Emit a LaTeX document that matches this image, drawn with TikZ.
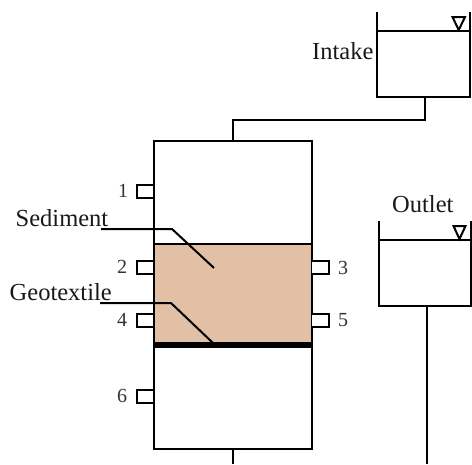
\documentclass[tikz,border=0pt]{standalone}
\usepackage{fontspec}
\setmainfont{Liberation Serif}
\tikzset{
  wall/.style={draw=black,line width=2pt},
  thin wall/.style={draw=black,line width=2pt},
  port/.style={draw=black,line width=2pt,fill=white},
  bigtext/.style={font=\fontsize{24.5}{24.5}\selectfont,inner sep=0pt,text=black!90},
  numtext/.style={font=\fontsize{20}{20}\selectfont,inner sep=0pt,text=black!80},
  level/.style={draw=black,line width=2pt,fill=white,line join=miter},
  leader/.style={draw=black,line width=2pt}
}
\begin{document}
\begin{tikzpicture}[x=1pt,y=-1pt]
\useasboundingbox (0,0) rectangle (472,464);
% soil and column
\fill[fill={rgb,255:red,225;green,192;blue,165}] (153.5,244) rectangle (311.5,344);
\draw[wall] (153.5,141) rectangle (311.5,449);
\draw[thin wall] (153.5,244) -- (311.5,244);
\fill[black] (153.5,342) rectangle (311.5,347.5);
% ports
\draw[port] (153,184.5) -- (136.5,184.5) -- (136.5,197.5) -- (153,197.5);
\draw[port] (153,260.5) -- (136.5,260.5) -- (136.5,273.5) -- (153,273.5);
\draw[port] (153,314) -- (136.5,314) -- (136.5,327) -- (153,327);
\draw[port] (153,390) -- (136.5,390) -- (136.5,403) -- (153,403);
\draw[port] (312,260.5) -- (328.5,260.5) -- (328.5,273.5) -- (312,273.5);
\draw[port] (312,313.5) -- (328.5,313.5) -- (328.5,326.5) -- (312,326.5);
% port numbers
\node[numtext] (n1) at (123,191) {1};
\node[numtext] (n2) at (122,267) {2};
\node[numtext] (n3) at (343,268) {3};
\node[numtext] (n4) at (122,320) {4};
\node[numtext] (n5) at (343,320) {5};
\node[numtext] (n6) at (122,396) {6};
% labels
\node[bigtext,anchor=base west] (sed) at (15.5,226) {Sediment};
\node[bigtext,anchor=base west] (geo) at (9.5,300) {Geotextile};
\node[bigtext,anchor=base west] (intake) at (312,59) {Intake};
\node[bigtext,anchor=base west] (outlet) at (392,212) {Outlet};
% leaders
\coordinate (sedA) at (101,229);
\coordinate (sedB) at (172,229);
\coordinate (sedC) at (214,268);
\coordinate (geoA) at (100,303);
\coordinate (geoB) at (171,303);
\coordinate (geoC) at (213,343);
\draw[leader] (sedA) -- (sedB) -- (sedC);
\draw[leader] (geoA) -- (geoB) -- (geoC);
% intake tank
\coordinate (inTL) at (376.5,12);
\coordinate (inTR) at (470,12);
\coordinate (inBL) at (376.5,97);
\coordinate (inBR) at (470,97);
\draw[wall] (inTL) -- (inBL) -- (inBR) -- (inTR);
\draw[thin wall] (376.5,31) -- (470,31);
\draw[level] (452.5,17) -- (465,17) -- (458.7,30) -- cycle;
% outlet tank
\coordinate (outTL) at (378.5,221);
\coordinate (outBL) at (378.5,306);
\coordinate (outBR) at (471,306);
\coordinate (outTR) at (471,221);
\draw[wall] (outTL) -- (outBL) -- (outBR) -- (outTR);
\draw[thin wall] (378.5,240) -- (471,240);
\draw[level] (453.5,226) -- (465.5,226) -- (459.5,239) -- cycle;
% pipes
\coordinate (pA) at (424.5,97);
\coordinate (pB) at (424.5,120);
\coordinate (pC) at (233,120);
\coordinate (pD) at (233,141);
\coordinate (qA) at (233,449);
\coordinate (qB) at (233,464);
\coordinate (rA) at (427,306);
\coordinate (rB) at (427,464);
\draw[thin wall] (pA) -- (pB) -- (pC) -- (pD);
\draw[thin wall] (qA) -- (qB);
\draw[thin wall] (rA) -- (rB);
\end{tikzpicture}
\end{document}
